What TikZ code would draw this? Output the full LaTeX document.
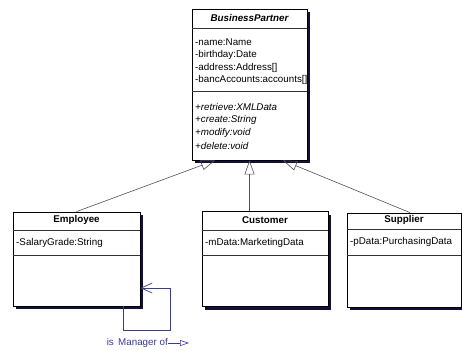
\documentclass[tikz,border=0pt]{standalone}
\usepackage{fontspec}
\setmainfont{Liberation Sans}
\usetikzlibrary{arrows.meta,shadows}
\definecolor{shad}{HTML}{10103A}
\definecolor{assoc}{HTML}{3A3A9A}
\definecolor{genl}{HTML}{505060}
\begin{document}
\begin{tikzpicture}[x=1pt,y=-1pt,
  font=\fontsize{9.8}{11}\selectfont,
  classbox/.style={draw=black, line width=0.8pt, fill=white, rectangle, inner sep=0pt,
    general shadow={fill=shad, shadow xshift=3pt, shadow yshift=-3pt}},
  sep/.style={draw=black!80, line width=0.6pt},
  txt/.style={anchor=west, inner sep=0pt},
  ttl/.style={inner sep=0pt, font=\fontsize{9.8}{11}\selectfont\bfseries},
  gen/.style={draw=genl, line width=0.6pt, -{Triangle[open,length=14pt,width=10pt]}},
  selfassoc/.style={draw=assoc, line width=0.7pt}]
\useasboundingbox (0,0) rectangle (462,350);
\begin{scope}
\clip (0,0) rectangle (462,350);
% BusinessPartner
\node[classbox, minimum width=115pt, minimum height=151pt] (bp) at (249.5,84.5) {};
\draw[sep] (bp.west |- 0,28) -- (bp.east |- 0,28);
\draw[sep] (bp.west |- 0,91) -- (bp.east |- 0,91);
\node[ttl, font=\fontsize{9.8}{11}\selectfont\bfseries\itshape] (bpt) at (249.5,18) {BusinessPartner};
\node[txt] (bpa1) at (195,42) {-name:Name};
\node[txt] (bpa2) at (195,55) {-birthday:Date};
\node[txt] (bpa3) at (195,68) {-address:Address[]};
\node[txt] (bpa4) at (195,80) {-bancAccounts:accounts[]};
\node[txt, font=\fontsize{9.8}{11}\selectfont\itshape] (bpm1) at (195,107) {+retrieve:XMLData};
\node[txt, font=\fontsize{9.8}{11}\selectfont\itshape] (bpm2) at (195,120) {+create:String};
\node[txt, font=\fontsize{9.8}{11}\selectfont\itshape] (bpm3) at (195,133) {+modify:void};
\node[txt, font=\fontsize{9.8}{11}\selectfont\itshape] (bpm4) at (195,146) {+delete:void};
% Employee
\node[classbox, minimum width=127pt, minimum height=94pt] (emp) at (76.5,259) {};
\draw[sep] (emp.west |- 0,230) -- (emp.east |- 0,230);
\draw[sep] (emp.west |- 0,255) -- (emp.east |- 0,255);
\node[ttl] (empt) at (76.5,220) {Employee};
\node[txt] (empa1) at (16,243) {-SalaryGrade:String};
% Customer
\node[classbox, minimum width=126pt, minimum height=95pt] (cus) at (265,259) {};
\draw[sep] (cus.west |- 0,230) -- (cus.east |- 0,230);
\draw[sep] (cus.west |- 0,255) -- (cus.east |- 0,255);
\node[ttl] (cust) at (265,220) {Customer};
\node[txt] (cusa1) at (205,243) {-mData:MarketingData};
% Supplier
\node[classbox, minimum width=114pt, minimum height=94pt] (sup) at (404,260) {};
\draw[sep] (sup.west |- 0,229) -- (sup.east |- 0,229);
\draw[sep] (sup.west |- 0,255) -- (sup.east |- 0,255);
\node[ttl] (supt) at (404,220) {Supplier};
\node[txt] (supa1) at (350,242) {-pData:PurchasingData};
\end{scope}
% Generalizations
\draw[gen] (emp.north) -- (bp.south -| 215,0);
\draw[gen] (cus.north -| bp.south) -- (bp.south);
\draw[gen] (sup.north -| 410,0) -- (bp.south -| 283,0);
% Self association
\coordinate (c1) at (123,330);
\coordinate (c2) at (170,330);
\coordinate (c3) at (170,288);
\draw[selfassoc, -{Straight Barb[length=11pt,width=10pt]}]
  (emp.south -| c1) -- (c1) -- (c2) -- (c3) -- (emp.east |- c3);
\node[anchor=east, inner sep=0pt, text=assoc] (mgr) at (168,343) {is\, Manager of};
\coordinate (mgrend) at (189,343);
\draw[draw=assoc, line width=0.6pt, -{Triangle[open,length=9pt,width=6pt]}] (mgr.east) -- (mgrend);
\end{tikzpicture}
\end{document}
